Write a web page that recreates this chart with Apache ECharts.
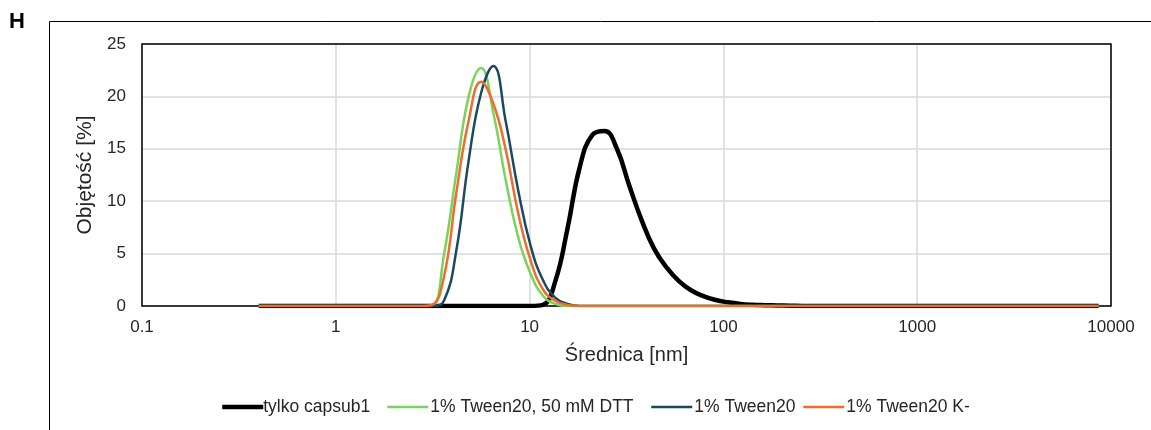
<!DOCTYPE html>
<html>
<head>
<meta charset="utf-8">
<script src="https://cdn.jsdelivr.net/npm/echarts@6/dist/echarts.min.js"></script>
<style>
html,body{margin:0;padding:0;background:#fff;}
#chart{width:1151px;height:430px;}
</style>
</head>
<body>
<div id="chart"></div>
<script>
// Particle diameter classes [nm]
const sizes = [0.4, 0.4632, 0.5365, 0.6213, 0.7195, 0.8332, 0.9649, 1.117, 1.294, 1.499,
  1.736, 2.01, 2.328, 2.696, 3.122, 3.615, 4.187, 4.849, 5.615, 6.503,
  7.531, 8.721, 10.1, 11.7, 13.54, 15.69, 18.17, 21.04, 24.36, 28.21,
  32.67, 37.84, 43.82, 50.75, 58.77, 68.06, 78.82, 91.28, 105.7, 122.4,
  141.8, 164.2, 190.1, 220.2, 255, 295.3, 342, 396.1, 458.7, 531.2,
  615.1, 712.4, 825, 955.4, 1106, 1281, 1484, 1718, 1990, 2305,
  2669, 3091, 3580, 4145, 4801, 5560, 6439, 7456, 8635];

// Volume [%] per series
const capsub = [0, 0, 0, 0, 0, 0, 0, 0, 0, 0,
  0, 0, 0, 0, 0, 0, 0, 0, 0, 0,
  0, 0, 0, 0.1, 2.3, 7.4, 13.3, 16.3, 16.7, 15.0,
  11.5, 8.2, 5.5, 3.7, 2.4, 1.5, 0.95, 0.57, 0.35, 0.2,
  0.12, 0.08, 0.05, 0.03, 0, 0, 0, 0, 0, 0,
  0, 0, 0, 0, 0, 0, 0, 0, 0, 0,
  0, 0, 0, 0, 0, 0, 0, 0, 0];
const dtt = [0, 0, 0, 0, 0, 0, 0, 0, 0, 0,
  0, 0, 0, 0, 0, 4.9, 12.7, 20.0, 22.7, 18.4,
  12.0, 6.6, 3.1, 1.0, 0.2, 0, 0, 0, 0, 0,
  0, 0, 0, 0, 0, 0, 0, 0, 0, 0,
  0, 0, 0, 0, 0, 0, 0, 0, 0, 0,
  0, 0, 0, 0, 0, 0, 0, 0, 0, 0,
  0, 0, 0, 0, 0, 0, 0, 0, 0];
const tween = [0, 0, 0, 0, 0, 0, 0, 0, 0, 0,
  0, 0, 0, 0, 0, 0.5, 5.3, 13.9, 20.3, 22.9,
  17.6, 11.1, 5.8, 2.5, 0.8, 0.2, 0, 0, 0, 0,
  0, 0, 0, 0, 0, 0, 0, 0, 0, 0,
  0, 0, 0, 0, 0, 0, 0, 0, 0, 0,
  0, 0, 0, 0, 0, 0, 0, 0, 0, 0,
  0, 0, 0, 0, 0, 0, 0, 0, 0];
const tweenK = [0, 0, 0, 0, 0, 0, 0, 0, 0, 0,
  0, 0, 0, 0, 0.1, 2.8, 10.8, 17.7, 21.4, 19.3,
  14.9, 8.9, 4.4, 1.6, 0.5, 0.1, 0, 0, 0, 0,
  0, 0, 0, 0, 0, 0, 0, 0, 0, 0,
  0, 0, 0, 0, 0, 0, 0, 0, 0, 0,
  0, 0, 0, 0, 0, 0, 0, 0, 0, 0,
  0, 0, 0, 0, 0, 0, 0, 0, 0];

const seriesNames = ['tylko capsub1', '1% Tween20, 50 mM DTT', '1% Tween20', '1% Tween20 K-'];
const seriesColors = ['#000000', '#7ad35c', '#1b4a60', '#ee6c2c'];
const seriesWidths = [4.5, 2.5, 2.5, 2.5];
const xTitle = 'Średnica [nm]';
const yTitle = 'Objętość [%]';
const panelLabel = 'H';

const FONT = '"Liberation Sans", Arial, sans-serif';
const TXT = '#262626';
const G = {left: 142, top: 44, right: 40, bottom: 124};
const legendLefts = [220, 386, 650, 802];

function pairs(arr) { return sizes.map((s, i) => [s, arr[i]]); }
const seriesData = [capsub, dtt, tween, tweenK];

const chart = echarts.init(document.getElementById('chart'), null, {renderer: 'canvas'});
chart.setOption({
  animation: false,
  textStyle: {fontFamily: FONT},
  grid: {left: G.left, top: G.top, right: G.right, bottom: G.bottom, show: false},
  graphic: [
    {type: 'rect', z: 0, silent: true,
     shape: {x: 49.5, y: 21.5, width: 1200, height: 500},
     style: {fill: 'none', stroke: '#000', lineWidth: 1}},
    {type: 'rect', z: 1, silent: true,
     shape: {x: G.left, y: G.top, width: 1151 - G.left - G.right, height: 430 - G.top - G.bottom},
     style: {fill: 'none', stroke: '#000', lineWidth: 1.5}},
    {type: 'text', left: 9, top: 11, silent: true,
     style: {text: panelLabel, fontFamily: FONT, fontSize: 22, fontWeight: 'bold', fill: '#000'}}
  ],
  legend: seriesNames.map((n, i) => ({
    left: legendLefts[i], top: 398, padding: 0,
    itemWidth: 41, itemHeight: 14, itemGap: 0,
    itemStyle: {opacity: 0},
    lineStyle: {width: seriesWidths[i], color: seriesColors[i]},
    textStyle: {fontFamily: FONT, fontSize: 17.5, color: TXT, padding: [0, 0, 0, i === 0 ? -5 : -3]},
    data: [n]
  })),
  xAxis: {
    type: 'log', logBase: 10, min: 0.1, max: 10000,
    name: xTitle, nameLocation: 'middle', nameGap: 39,
    nameTextStyle: {fontFamily: FONT, fontSize: 20, color: TXT},
    axisLine: {show: false}, axisTick: {show: false},
    axisLabel: {fontFamily: FONT, fontSize: 17, color: TXT, margin: 13,
      formatter: v => String(Number(v.toPrecision(6)))},
    splitLine: {show: true, lineStyle: {color: '#d9d9d9', width: 1.5}}
  },
  yAxis: {
    type: 'value', min: 0, max: 25, interval: 5,
    name: yTitle, nameLocation: 'middle', nameGap: 44,
    nameTextStyle: {fontFamily: FONT, fontSize: 21, color: TXT},
    axisLine: {show: false}, axisTick: {show: false},
    axisLabel: {fontFamily: FONT, fontSize: 17, color: TXT, margin: 16},
    splitLine: {show: true, lineStyle: {color: '#d9d9d9', width: 1.5}}
  },
  series: seriesNames.map((n, i) => ({
    name: n, type: 'line', data: pairs(seriesData[i]), symbol: 'none', smooth: 0.45,
    lineStyle: {color: seriesColors[i], width: seriesWidths[i]},
    itemStyle: {color: seriesColors[i]}
  }))
});
</script>
</body>
</html>
